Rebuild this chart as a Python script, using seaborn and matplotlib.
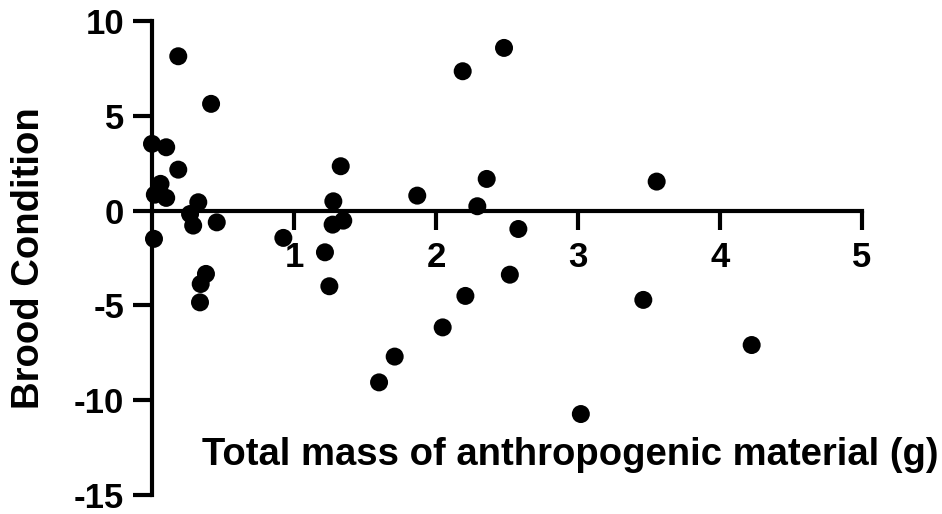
import matplotlib
matplotlib.use("Agg")
import matplotlib.pyplot as plt
import seaborn as sns
import pandas as pd

# Data
mass_g = [0.00, 0.10, 0.185, 0.06, 0.02, 0.10, 0.326, 0.268, 0.29, 0.456, 0.014,
          0.185, 0.416, 0.38, 0.343, 0.338,
          1.329, 1.277, 1.347, 1.272, 0.925, 1.218, 1.249,
          2.479, 2.188, 2.357, 1.868, 2.291, 2.58, 2.52, 2.207, 2.047, 1.709, 1.599, 3.02,
          3.554, 3.46, 4.223]
brood_condition = [3.52, 3.34, 2.16, 1.41, 0.84, 0.67, 0.44, -0.18, -0.79, -0.62, -1.49,
                   8.14, 5.63, -3.34, -3.87, -4.84,
                   2.34, 0.49, -0.53, -0.74, -1.44, -2.2, -3.99,
                   8.58, 7.35, 1.67, 0.79, 0.23, -0.97, -3.38, -4.5, -6.16, -7.7, -9.06, -10.73,
                   1.53, -4.71, -7.09]
x_ticks = [1, 2, 3, 4, 5]
y_ticks = [10, 5, 0, -5, -10, -15]
x_title = "Total mass of anthropogenic material (g)"
y_title = "Brood Condition"

df = pd.DataFrame({"mass": mass_g, "brood": brood_condition})

sns.set_theme(style="ticks")
plt.rcParams["font.family"] = ["Liberation Sans", "DejaVu Sans"]
plt.rcParams["font.weight"] = "bold"

fig = plt.figure(figsize=(9.42, 5.14), dpi=100)
ax = fig.add_axes([152 / 942, 19 / 514, 710 / 942, 474 / 514])

sns.scatterplot(data=df, x="mass", y="brood", ax=ax, color="black", s=168,
                edgecolor="none", linewidth=0, clip_on=False, zorder=3)

ax.set_xlim(0, 5)
ax.set_ylim(-15, 10)
ax.set_xticks(x_ticks)
ax.set_yticks(y_ticks)
ax.set_xticklabels([str(t) for t in x_ticks])
ax.set_yticklabels([str(t) for t in y_ticks])

ax.spines["top"].set_visible(False)
ax.spines["right"].set_visible(False)
ax.spines["bottom"].set_position(("data", 0))
ax.spines["left"].set_position(("data", 0))
for sp in ("bottom", "left"):
    ax.spines[sp].set_linewidth(3)
    ax.spines[sp].set_color("black")
ax.spines["bottom"].set_bounds(0, 5)
ax.spines["left"].set_bounds(-15, 10)

ax.tick_params(axis="both", direction="out", length=14, width=3, color="black",
               labelsize=25, labelcolor="black")
ax.tick_params(axis="x", pad=8)
ax.tick_params(axis="y", pad=6)
for lab in ax.get_xticklabels() + ax.get_yticklabels():
    lab.set_fontweight("bold")

ax.set_xlabel(x_title, fontsize=27.5, fontweight="bold", color="black")
ax.set_ylabel(y_title, fontsize=27.5, fontweight="bold", color="black")
ax.xaxis.label.set_va("center")
ax.yaxis.label.set_va("center")
ax.xaxis.set_label_coords((570 - 152) / 710, (495 - 455) / 474)
ax.yaxis.set_label_coords((29 - 152) / 710, 0.5)

ax.grid(False)
fig.savefig("out.png", dpi=100)
